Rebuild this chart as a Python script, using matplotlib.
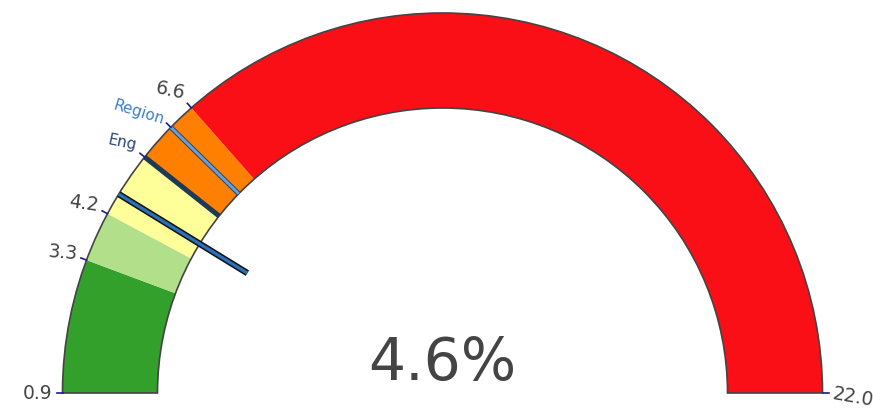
import numpy as np
import matplotlib
matplotlib.use("Agg")
import matplotlib.pyplot as plt
from matplotlib.patches import Wedge

# gauge range and bands
vmin, vmax = 0.9, 22.0
band_edges = [0.9, 3.3, 4.2, 5.4, 6.6, 22.0]
band_colors = ['#33a02c', '#b2df8a', '#ffff99', '#ff7f00', '#f90f15']
value = 4.6
eng_value = 5.4
region_value = 6.1

tick_vals = [0.9, 3.3, 4.2, 5.4, 6.1, 6.6, 22.0]
tick_text = ['0.9', '3.3', '4.2', 'Eng', 'Region', '6.6', '22.0']
tick_colors = ['#444444', '#444444', '#444444', '#2b4a78', '#3d80c8', '#444444', '#444444']
tick_sizes = [13.5, 13.5, 13.5, 11, 11, 13.5, 13.5]
tick_rot = [0, -5, -8, -12, -17, -12, -10]

plt.rcParams['font.family'] = ['DejaVu Sans']

fig = plt.figure(figsize=(8.73, 4.14), dpi=100)
ax = fig.add_axes([0, 0, 1, 1])
ax.set_xlim(0, 873)
ax.set_ylim(0, 414)
ax.axis('off')

cx, cy = 442.5, 20
r_out, r_in = 380, 285


def ang(v):
    return 180 - (v - vmin) / (vmax - vmin) * 180


def pt(v, r):
    a = np.radians(ang(v))
    return cx + r * np.cos(a), cy + r * np.sin(a)


for lo, hi, c in zip(band_edges[:-1], band_edges[1:], band_colors):
    ax.add_patch(Wedge((cx, cy), r_out, ang(hi), ang(lo), width=r_out - r_in,
                       facecolor=c, edgecolor='none'))
ax.add_patch(Wedge((cx, cy), r_out, 0, 180, width=r_out - r_in,
                   facecolor='none', edgecolor='#444444', lw=1.2))

# threshold lines
x0, y0 = pt(eng_value, r_in)
x1, y1 = pt(eng_value, r_out)
ax.plot([x0, x1], [y0, y1], color='#1c3957', lw=3.6, solid_capstyle='butt')
x0, y0 = pt(region_value, r_in)
x1, y1 = pt(region_value, r_out)
ax.plot([x0, x1], [y0, y1], color='#2f4f6f', lw=3.6, solid_capstyle='butt')
ax.plot([x0, x1], [y0, y1], color='#6a9fd8', lw=2.0, solid_capstyle='butt')

# needle
x0, y0 = pt(value, 229)
x1, y1 = pt(value, r_out)
ax.plot([x0, x1], [y0, y1], color='#111111', lw=4.6, solid_capstyle='butt')
ax.plot([x0, x1], [y0, y1], color='#2a6fb8', lw=2.4, solid_capstyle='butt')

# ticks and labels
for v, t, c, s, rot in zip(tick_vals, tick_text, tick_colors, tick_sizes, tick_rot):
    xa, ya = pt(v, r_out)
    xb, yb = pt(v, r_out + 6)
    ax.plot([xa, xb], [ya, yb], color='#1a1a9a', lw=1.2)
    a = np.radians(ang(v))
    xt, yt = pt(v, r_out + 10)
    yt += 10 * np.sin(a)
    if t == 'Region':
        yt -= 6
    ha = 'right' if ang(v) > 90 else 'left'
    ax.text(xt, yt, t, color=c, fontsize=s, ha=ha, va='center',
            rotation=rot, rotation_mode='anchor')

ax.text(cx, 50, '4.6%', fontsize=42, color='#444444', ha='center', va='center')

fig.savefig('out.png', dpi=100)
